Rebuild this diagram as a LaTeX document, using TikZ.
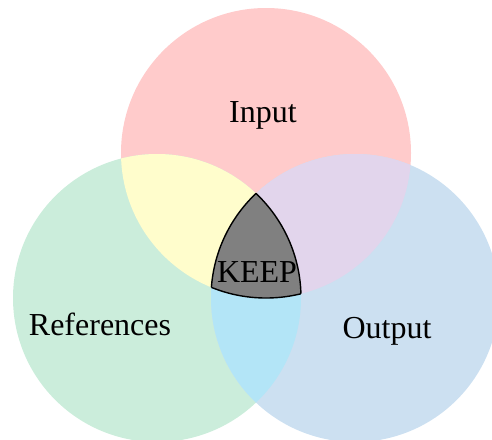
\documentclass[tikz,border=0pt]{standalone}
\usepackage{fontspec}
\setmainfont{Liberation Serif}
\definecolor{cpink}{HTML}{FFCBCB}
\definecolor{cgreen}{HTML}{CBEDDB}
\definecolor{cblue}{HTML}{CCE0F1}
\definecolor{cyellow}{HTML}{FFFDCC}
\definecolor{cpurple}{HTML}{E2D5EC}
\definecolor{ccyan}{HTML}{B3E5F7}
\definecolor{ckeep}{HTML}{808080}
\tikzset{lbl/.style={anchor=base,inner sep=0pt,font=\fontsize{32}{38}\selectfont}}
\begin{document}
\begin{tikzpicture}[x=1pt,y=-1pt]
\useasboundingbox (0,0) rectangle (492,439);
\def\ctop{(266,153) circle [radius=145pt]}
\def\cleft{(157,298) circle [radius=144pt]}
\def\cright{(355,298) circle [radius=144pt]}
\begin{scope}
\clip (0,0) rectangle (492,439);
\fill[cpink] \ctop;
\fill[cgreen] \cleft;
\fill[cblue] \cright;
\begin{scope}\clip \ctop; \fill[cyellow] \cleft; \end{scope}
\begin{scope}\clip \ctop; \fill[cpurple] \cright; \end{scope}
\begin{scope}\clip \cleft; \fill[ccyan] \cright; \end{scope}
\begin{scope}\clip \ctop; \clip \cleft; \fill[ckeep] \cright; \end{scope}
\begin{scope}\clip \cleft; \clip \cright; \draw[line width=1.4pt] \ctop; \end{scope}
\begin{scope}\clip \ctop; \clip \cright; \draw[line width=1.4pt] \cleft; \end{scope}
\begin{scope}\clip \ctop; \clip \cleft; \draw[line width=1.4pt] \cright; \end{scope}
\end{scope}
\node[lbl] (input) at (263,122.5) {Input};
\node[lbl] (refs) at (100,335) {References};
\node[lbl] (output) at (387,338) {Output};
\node[lbl] (keep) at (257,282) {KEEP};
\end{tikzpicture}
\end{document}
